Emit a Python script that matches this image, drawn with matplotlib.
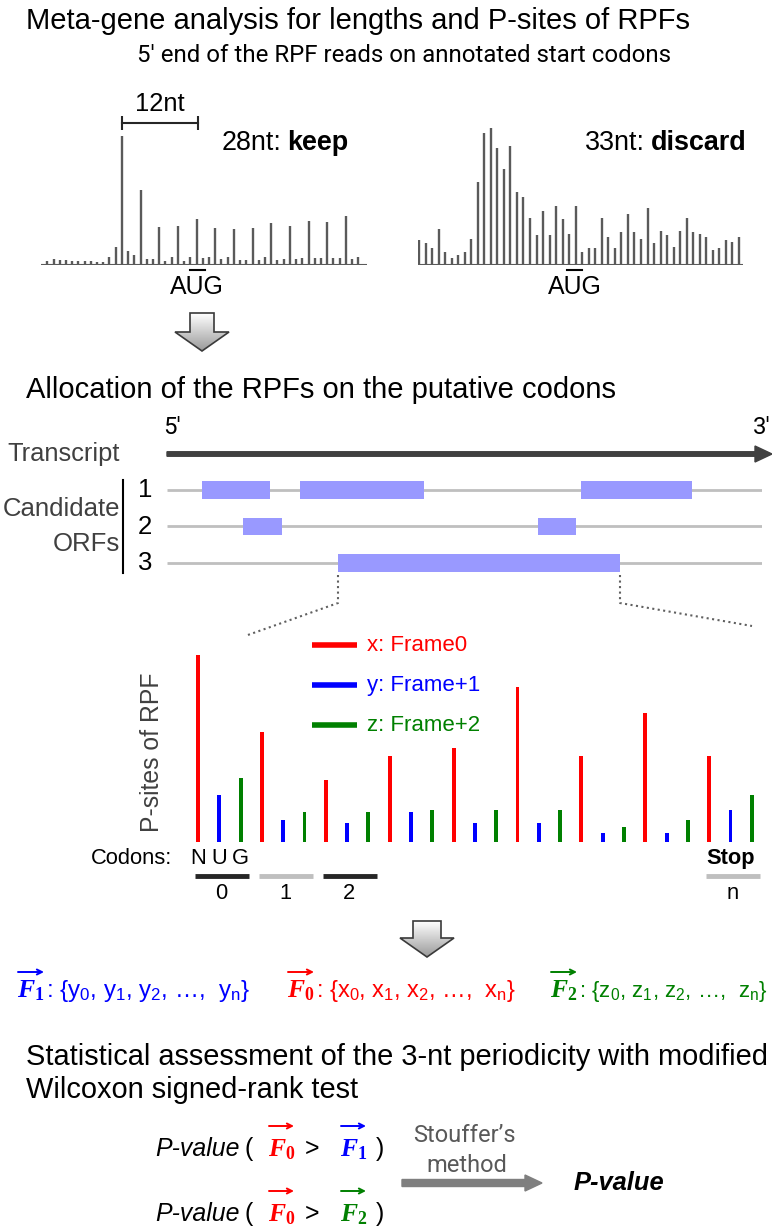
import matplotlib
matplotlib.use('Agg')

import numpy as np
import matplotlib.pyplot as plt
from matplotlib import font_manager
from matplotlib.patches import Polygon, Rectangle, FancyArrow
from matplotlib.colors import LinearSegmentedColormap


# DATA
# meta-gene profiles (5' end counts, arbitrary units) around the start codon
META_28NT = [13, 17, 15, 14, 12, 11, 11, 13, 8, 9, 23, 54, 387, 42, 30, 224, 18, 18,
             114, 13, 25, 117, 13, 23, 139, 21, 23, 111, 17, 23, 109, 15, 16, 112,
             15, 23, 127, 15, 17, 117, 19, 21, 131, 21, 21, 129, 21, 21, 148, 17, 25]
META_33NT = [75, 65, 50, 108, 39, 20, 30, 39, 79, 249, 395, 410, 350, 288, 357, 220,
             205, 142, 89, 162, 89, 176, 138, 93, 176, 39, 50, 50, 142, 84, 50, 98,
             152, 98, 79, 171, 65, 103, 89, 55, 103, 142, 98, 94, 84, 45, 50, 74, 69, 84]

# P-sites per codon and frame
FRAME0 = [100, 59, 33, 46, 50, 83, 46, 69, 46]
FRAME1 = [25, 12, 10, 16, 10, 10, 5, 5, 17]
FRAME2 = [34, 16, 16, 17, 17, 17, 8, 12, 25]
FRAME_LABELS = ["x: Frame0", "y: Frame+1", "z: Frame+2"]

# candidate ORFs on the transcript (transcript units)
ORF_ROWS = [
    [(35, 103), (133, 257), (414, 525)],
    [(76, 115), (371, 409)],
    [(171, 453)],
]
TRANSCRIPT_LEN = 595

CODON_IDX = [0, 1, 2, 8]
CODON_LABELS = ["0", "1", "2", "n"]

# SETTINGS
W, H = 772, 1228
RED, BLUE, GREEN = "#ff0000", "#0000ff", "#008000"
BAR_GREY = "#5a5a5a"
DARK = "#404040"

names = {f.name for f in font_manager.fontManager.ttflist}
NARROW = "Liberation Sans Narrow" if "Liberation Sans Narrow" in names else "Liberation Sans"
HUMAN = ["Roboto", "DejaVu Sans"]

plt.rcParams["font.family"] = [NARROW, "DejaVu Sans"]
plt.rcParams["mathtext.fontset"] = "custom"
plt.rcParams["mathtext.rm"] = NARROW
plt.rcParams["mathtext.it"] = "Liberation Serif:italic:bold"
plt.rcParams["mathtext.bf"] = "Liberation Serif:bold"

fig = plt.figure(figsize=(W / 100, H / 100), dpi=100)
renderer = fig.canvas.get_renderer()


# HELPERS
def px_axes(x0, y0, x1, y1):
    ax = fig.add_axes([x0 / W, 1 - y1 / H, (x1 - x0) / W, (y1 - y0) / H])
    ax.set_axis_off()
    return ax


def fit(t, size, vertical=False):
    """Scale the font so the text covers `size` pixels."""
    bb = t.get_window_extent(renderer)
    cur = bb.height if vertical else bb.width
    t.set_fontsize(t.get_fontsize() * size / cur)
    return t


GRAD = LinearSegmentedColormap.from_list("grad", ["#ffffff", "#9a9a9a"])


def block_arrow(ax, cx, top, neck, tip, shaft, head):
    verts = [(cx - shaft, top), (cx + shaft, top), (cx + shaft, neck), (cx + head, neck),
             (cx, tip), (cx - head, neck), (cx - shaft, neck)]
    poly = Polygon(verts, closed=True, fc="none", ec="#3a3a3a", lw=1.2, zorder=3)
    ax.add_patch(poly)
    im = ax.imshow(np.linspace(0, 1, 64).reshape(-1, 1), cmap=GRAD, aspect="auto",
                   extent=(cx - head, cx + head, tip, top), zorder=2)
    im.set_clip_path(poly)


def vec_arrow(ax, x0, x1, y, color):
    ax.annotate("", xy=(x1, y), xytext=(x0, y),
                arrowprops=dict(arrowstyle="->", color=color, lw=1.4,
                                shrinkA=0, shrinkB=0, mutation_scale=9))


# OVERLAY (pixel coordinates)
ov = px_axes(0, 0, W, H)

fit(ov.text(26, 21, "Meta-gene analysis for lengths and P-sites of RPFs",
            va="center", fontsize=20), 662)
sub = fit(ov.text(137, 55, "5\u2032 end of the RPF reads on annotated start codons",
                  family=HUMAN, va="center", fontsize=14), 536)


# META-GENE PANELS
def meta_panel(box, heights, xlim, label, word, label_x, aug_x):
    ax = px_axes(*box)
    ax.vlines(np.arange(len(heights)), 0, heights, color=BAR_GREY, lw=1.7)
    ax.axhline(0, color=BAR_GREY, lw=1.5)
    ax.set_xlim(*xlim)
    ax.set_ylim(0, 420)
    t = fit(ax.text(label_x, 366, label, va="center", fontsize=14, clip_on=False), 60)
    ax.annotate(word, xy=(1, 0.5), xycoords=t, xytext=(4, 0), textcoords="offset points",
                va="center", ha="left", fontweight="bold", fontsize=t.get_fontsize())
    fit(ax.text(aug_x, -66, "AUG", ha="center", va="center", fontsize=14, clip_on=False), 54)
    ax.plot([aug_x - 1.1, aug_x + 1.2], [-16, -16], color="black", lw=1.5, clip_on=False)
    return ax


axL = meta_panel((41, 125, 367, 265), META_28NT, (-1.01, 51.4), "28nt:", "keep", 28.1, 24.1)
axR = meta_panel((417.7, 125, 742.7, 265), META_33NT, (-0.2, 49.57), "33nt:", "discard", 25.4, 23.8)

# 12nt offset bracket
axL.plot([12, 24.2], [426, 426], color="#262626", lw=1.5, clip_on=False)
axL.vlines([12, 24.2], 405, 447, color="#262626", lw=1.5, clip_on=False)
fit(axL.text(18.1, 483, "12nt", ha="center", va="center", fontsize=14, clip_on=False), 50)

block_arrow(ov, 202, 313, 332, 351, 12, 27)

# ALLOCATION SECTION
fit(ov.text(26, 390, "Allocation of the RPFs on the putative codons",
            va="center", fontsize=20), 588)

ov.text(163, 428, "5\u2032", family=HUMAN, va="center", fontsize=sub.get_fontsize())
ov.text(771, 428, "3\u2032", family=HUMAN, va="center", ha="right", fontsize=sub.get_fontsize())
ov.add_patch(FancyArrow(167, 454, 605, 0, width=4.5, head_width=16, head_length=17,
                        length_includes_head=True, color=DARK))
fit(ov.text(120, 454, "Transcript", ha="right", va="center", color=DARK, fontsize=16), 113)
cand = fit(ov.text(120, 509, "Candidate", ha="right", va="center", color=DARK, fontsize=16), 118)
ov.text(120, 544, "ORFs", ha="right", va="center", color=DARK, fontsize=cand.get_fontsize())
ov.plot([123, 123], [480, 573], color="black", lw=1.5)

axO = px_axes(167, 478, 762, 575)
for r, boxes in enumerate(ORF_ROWS, start=1):
    axO.hlines(r, 0, TRANSCRIPT_LEN, color="#bfbfbf", lw=2, zorder=1)
    for s, e in boxes:
        axO.add_patch(Rectangle((s, r - 0.245), e - s, 0.49, color="#9999ff", lw=0, zorder=2))
    ov.text(145, 490 + 36.5 * (r - 1), str(r), ha="center", va="center",
            fontsize=cand.get_fontsize())
axO.set_xlim(0, TRANSCRIPT_LEN)
axO.set_ylim(3.33, 0.671)

ov.plot([338, 338, 245], [575, 603, 636], ls=":", color="#606060", lw=1.5)
ov.plot([620, 620, 752], [575, 603, 626], ls=":", color="#606060", lw=1.5)

# P-SITE BARS
axB = px_axes(150, 640, 770, 842)
x = np.arange(len(FRAME0))
bw = 0.062
axB.bar(x, FRAME0, width=bw, color=RED)
axB.bar(x + 1 / 3, FRAME1, width=bw, color=BLUE)
axB.bar(x + 2 / 3, FRAME2, width=bw, color=GREEN)
axB.set_xlim(-0.7512, 8.9515)
axB.set_ylim(0, 108)

lab_size = None
for i, (lab, col) in enumerate(zip(FRAME_LABELS, [RED, BLUE, GREEN])):
    y = 105.3 - 21.4 * i
    axB.plot([1.784, 2.488], [y, y], color=col, lw=4, solid_capstyle="butt", clip_on=False)
    t = axB.text(2.645, y, lab, color=col, va="center", fontsize=14, clip_on=False)
    if lab_size is None:
        lab_size = fit(t, 101).get_fontsize()
    t.set_fontsize(lab_size)

fit(axB.text(-0.72, 48, "P-sites of RPF", rotation=90, ha="center", va="center",
             color=DARK, fontsize=16, clip_on=False), 160, vertical=True)

cod = fit(axB.text(-0.40, -8.6, "Codons:", ha="right", va="center", fontsize=14,
                   clip_on=False), 82)
cs = cod.get_fontsize()
for k, ch in enumerate("NUG"):
    axB.text(k / 3, -8.6, ch, ha="center", va="center", fontsize=cs, clip_on=False)
axB.text(8 + 1 / 3, -8.6, "Stop", ha="center", va="center", fontsize=cs,
         fontweight="bold", clip_on=False)
for k, (c, lab) in enumerate(zip(CODON_IDX, CODON_LABELS)):
    col = "#262626" if k % 2 == 0 else "#bfbfbf"
    axB.plot([c - 0.05, c + 0.8], [-18.2, -18.2], color=col, lw=3.5,
             solid_capstyle="butt", clip_on=False)
    axB.text(c + 0.37, -27.5, lab, ha="center", va="center", fontsize=cs, clip_on=False)

block_arrow(ov, 427, 921, 938, 957, 14, 27)

# FRAME VECTORS
VEC_Y = 997
for x0, sym, items, col, span in [(17, "1", "y", BLUE, 205), (287, "0", "x", RED, 201),
                                  (550, "2", "z", GREEN, 189)]:
    f = fit(ov.text(x0, VEC_Y, r"$F_{\mathbf{%s}}$" % sym, color=col, va="baseline",
                    fontsize=14), 28)
    vec_arrow(ov, x0 + 1, x0 + 27, 972, col)
    s = (": {%s$_{\\mathrm{0}}$, %s$_{\\mathrm{1}}$, %s$_{\\mathrm{2}}$, \u2026,  %s$_{\\mathrm{n}}$}"
         % (items, items, items, items))
    fit(ov.text(x0 + 29, VEC_Y, s, color=col, va="baseline", fontsize=14), span)
    f_size = f.get_fontsize()

# STATISTICS
fit(ov.text(26, 1057, "Statistical assessment of the 3-nt periodicity with modified",
            va="center", fontsize=20), 742)
fit(ov.text(26, 1090, "Wilcoxon signed-rank test", va="center", fontsize=20), 332)

pv = None
for base, sym, col in [(1156, "1", BLUE), (1221, "2", GREEN)]:
    t = ov.text(155, base, "P-value", style="italic", va="baseline", fontsize=14)
    if pv is None:
        pv = fit(t, 85).get_fontsize()
    t.set_fontsize(pv)
    ov.text(245, base, "(", va="baseline", fontsize=pv)
    ov.text(268, base, r"$F_{\mathbf{0}}$", color=RED, va="baseline", fontsize=f_size)
    vec_arrow(ov, 269, 294, base - 30, RED)
    ov.text(305, base, ">", va="baseline", fontsize=pv)
    ov.text(340, base, r"$F_{\mathbf{%s}}$" % sym, color=col, va="baseline", fontsize=f_size)
    vec_arrow(ov, 341, 366, base - 30, col)
    ov.text(376, base, ")", va="baseline", fontsize=pv)

st = fit(ov.text(464, 1135, "Stouffer\u2019s", family=HUMAN, ha="center", va="center",
                 color="#595959", fontsize=14), 103)
ov.text(467, 1165, "method", family=HUMAN, ha="center", va="center",
        color="#595959", fontsize=st.get_fontsize())
ov.add_patch(FancyArrow(402, 1183, 140, 0, width=7, head_width=16, head_length=17,
                        length_includes_head=True, color="#7f7f7f"))
fit(ov.text(574, 1183, "P-value", style="italic", fontweight="bold", va="center",
            fontsize=16), 91)

ov.set_xlim(0, W)
ov.set_ylim(H, 0)

fig.savefig("out.png", dpi=100)
